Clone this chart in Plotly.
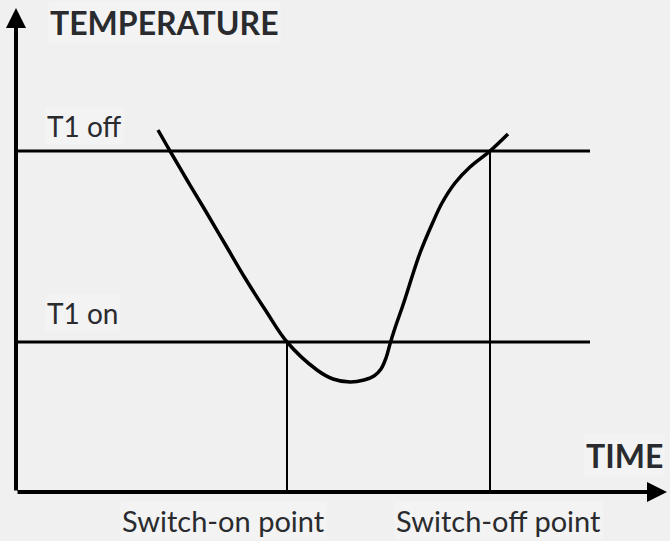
import plotly.graph_objects as go

# Data (time units, temperature units)
curve_time = [142, 154, 171, 189, 209, 229, 250, 271, 301, 317, 334, 348, 358, 365, 370, 374, 379, 387, 404, 417, 426, 439, 454, 474, 492]
curve_temp = [362, 341, 312, 282, 248, 214, 181, 150, 122, 113, 110, 112, 116, 123, 134, 148, 164, 187, 239, 270, 289, 309, 325, 341, 358]
t1_off = 341
t1_on = 150
threshold_end = 574
switch_on_time = 271
switch_off_time = 474
time_axis_end = 651
temp_axis_end = 484

INK = "#000000"
TXT = "#2a2b2e"
BG = "#f0f0f0"
FONT = "Lato"

fig = go.Figure()

# threshold lines
for lvl in (t1_off, t1_on):
    fig.add_trace(go.Scatter(x=[0, threshold_end], y=[lvl, lvl], mode="lines",
                             line=dict(color=INK, width=3), hoverinfo="skip", showlegend=False))
# switch point verticals
fig.add_trace(go.Scatter(x=[switch_on_time, switch_on_time], y=[0, t1_on], mode="lines",
                         line=dict(color=INK, width=2), hoverinfo="skip", showlegend=False))
fig.add_trace(go.Scatter(x=[switch_off_time, switch_off_time], y=[0, t1_off], mode="lines",
                         line=dict(color=INK, width=2), hoverinfo="skip", showlegend=False))
# temperature curve
fig.add_trace(go.Scatter(x=curve_time, y=curve_temp, mode="lines",
                         line=dict(color=INK, width=3.5, shape="spline", smoothing=1),
                         hoverinfo="skip", showlegend=False))

# axes as arrows
fig.add_annotation(x=time_axis_end, y=0, ax=0, ay=0, axref="x", ayref="y", xref="x", yref="y",
                   showarrow=True, arrowhead=2, arrowsize=1, arrowwidth=4, arrowcolor=INK, text="")
fig.add_annotation(x=0, y=temp_axis_end, ax=0, ay=0, axref="x", ayref="y", xref="x", yref="y",
                   showarrow=True, arrowhead=2, arrowsize=1, arrowwidth=4, arrowcolor=INK, text="")

def label(text, x, y, anchor="left", bold=False, size=28):
    fig.add_annotation(x=x, y=y, xref="x", yref="y", text=f"<b>{text}</b>" if bold else text,
                       showarrow=False, xanchor=anchor, yanchor="middle",
                       font=dict(family=FONT, size=size, color=TXT), bgcolor="#f3f3f3")

label("TEMPERATURE", 32, 470, bold=True, size=32)
label("T1 off", 29, 366)
label("T1 on", 29, 179)
label("TIME", 649, 37, anchor="right", bold=True, size=32)
label("Switch-on point", 207, -28, anchor="center", size=29)
label("Switch-off point", 482, -28, anchor="center", size=29)

fig.update_layout(
    width=670, height=541, margin=dict(l=0, r=0, t=0, b=0),
    paper_bgcolor=BG, plot_bgcolor=BG,
    xaxis=dict(range=[-16, 654], visible=False, fixedrange=True),
    yaxis=dict(range=[-49, 492], visible=False, fixedrange=True),
)
fig.write_html("out.html", config={"displayModeBar": False},
               post_script="document.body.style.margin='0';document.body.style.background='#f0f0f0';")
